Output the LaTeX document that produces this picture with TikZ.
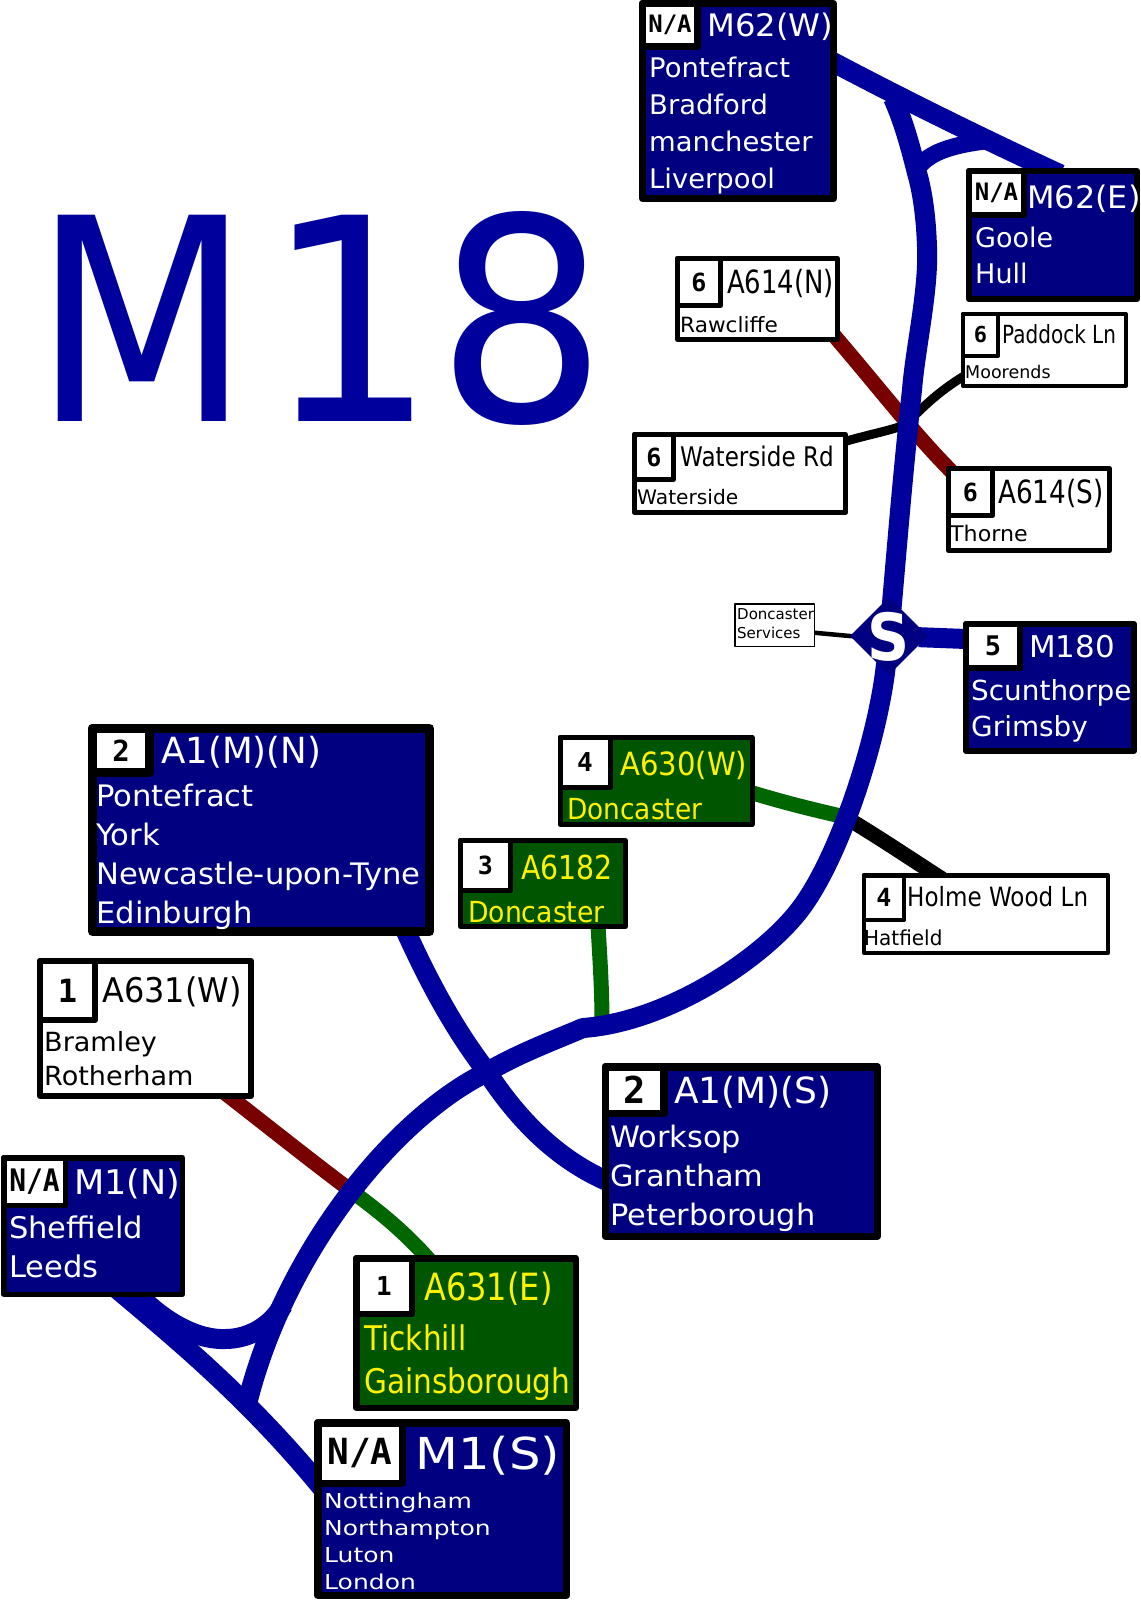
\documentclass[tikz,border=0pt]{standalone}
\usepackage{graphicx}
\usepackage{fontspec}
\setmainfont{DejaVu Sans}
\newfontfamily\badgefont{DejaVu Sans Mono}
\usetikzlibrary{backgrounds,shapes.geometric}
\definecolor{signblue}{HTML}{000080}
\definecolor{roadblue}{HTML}{00009C}
\definecolor{signgreen}{HTML}{005500}
\definecolor{roadgreen}{HTML}{006600}
\definecolor{roadred}{HTML}{770000}
\newcommand{\signtext}[4]{\scalebox{#1}[1]{\fontsize{#2}{#3}\selectfont\begin{tabular}[b]{@{}l@{}}#4\end{tabular}}}
\newcommand{\badgetext}[3]{\scalebox{#1}[1]{\fontsize{#2}{#2}\selectfont #3}}
\tikzset{
  board/.style={draw=black,line join=round,outer sep=0pt,inner sep=0pt},
  motorwaysign/.style={board,fill=signblue},
  primarysign/.style={board,fill=signgreen},
  localsign/.style={board,fill=white},
  badge/.style={board,fill=white,anchor=north west,text=black,font=\badgefont\bfseries},
  motorwaytext/.style={anchor=base west,inner sep=0pt,text=white},
  primarytext/.style={anchor=base west,inner sep=0pt,text=yellow},
  localtext/.style={anchor=base west,inner sep=0pt,text=black},
  startin/.style={shorten <=-8pt},
  stopin/.style={shorten >=-8pt},
  motorway/.style={draw=roadblue,line width=20pt},
  minorgreen/.style={draw=roadgreen,line width=15pt},
  minorred/.style={draw=roadred,line width=15pt},
  minorblack/.style={draw=black,line width=#1},
  minorblack/.default=9pt
}
\begin{document}
\begin{tikzpicture}[x=1pt,y=-1pt]
\path[use as bounding box] (0,0) rectangle (1140,1600);
\node[anchor=base west,inner sep=0pt,text=roadblue] (title) at (33,421) {\fontsize{283}{283}\selectfont\scalebox{.89}[1]{M}\kern15pt\scalebox{.95}[1]{18}};
% northern end
\node[motorwaysign,line width=7pt,minimum width=191pt,minimum height=195pt] (m62w) at (738,101) {};
\node[badge,line width=7pt,minimum width=55pt,minimum height=43pt] (m62wbadge) at (m62w.north west) {\badgetext{1}{24}{N/A}};
\node[motorwaytext] (m62wname) at (707,37) {\signtext{1.04}{31}{31}{M62(W)}};
\node[motorwaytext] (m62wdest) at (649,188) {\signtext{1.015}{27}{36.7}{Pontefract\\Bradford\\manchester\\Liverpool}};
\node[motorwaysign,line width=6pt,minimum width=168pt,minimum height=128pt] (m62e) at (1053,235) {};
\node[badge,line width=6pt,minimum width=55pt,minimum height=44pt] (m62ebadge) at (m62e.north west) {\badgetext{1}{24}{N/A}};
\node[motorwaytext] (m62ename) at (1027,208) {\signtext{1.03}{31}{31}{M62(E)}};
\node[motorwaytext] (m62edest) at (975,283) {\signtext{1}{27}{36}{Goole\\Hull}};
% junction 6
\node[localsign,line width=5pt,minimum width=160pt,minimum height=81pt] (a614n) at (757.5,299) {};
\node[badge,line width=5pt,minimum width=43pt,minimum height=47pt] (a614nbadge) at (a614n.north west) {\badgetext{1}{25}{6}};
\node[localtext] (a614nname) at (727,293) {\signtext{.81}{32}{32}{A614(N)}};
\node[localtext] (a614ndest) at (680,332) {\signtext{1.03}{21}{21}{Rawcliffe}};
\node[localsign,line width=4pt,minimum width=163pt,minimum height=72pt] (paddock) at (1044.5,350) {};
\node[badge,line width=4pt,minimum width=35pt,minimum height=42pt] (paddockbadge) at (paddock.north west) {\badgetext{1}{22}{6}};
\node[localtext] (paddockname) at (1002,343) {\signtext{.8}{25}{25}{Paddock Ln}};
\node[localtext] (paddockdest) at (965,378) {\signtext{1}{17.5}{17.5}{Moorends}};
\node[localsign,line width=5pt,minimum width=211pt,minimum height=78pt] (waterside) at (740,473.5) {};
\node[badge,line width=5pt,minimum width=39pt,minimum height=45pt] (watersidebadge) at (waterside.north west) {\badgetext{1}{25}{6}};
\node[localtext] (watersidename) at (680,466) {\signtext{.855}{27}{27}{Waterside Rd}};
\node[localtext] (watersidedest) at (637,504) {\signtext{1.01}{20}{20}{Waterside}};
\node[localsign,line width=5pt,minimum width=161pt,minimum height=82pt] (a614s) at (1029,509.5) {};
\node[badge,line width=5pt,minimum width=44pt,minimum height=47pt] (a614sbadge) at (a614s.north west) {\badgetext{1}{25}{6}};
\node[localtext] (a614sname) at (998,503) {\signtext{.82}{32}{32}{A614(S)}};
\node[localtext] (a614sdest) at (950,541) {\signtext{1.03}{21.5}{21.5}{Thorne}};
% services and junction 5
\node[localsign,line width=1.5pt,minimum width=79.5pt,minimum height=42.5pt] (donservices) at (774.5,625) {};
\node[localtext] (donservicestext) at (737,638) {\signtext{1}{15}{19}{Doncaster\\Services}};
\node[diamond,fill=signblue,inner sep=0pt,minimum width=78pt,minimum height=78pt] (services) at (889,636) {};
\node[anchor=base,inner sep=0pt,text=white] (servicesmark) at (889,660) {\bfseries\signtext{.9}{65}{65}{S}};
\node[motorwaysign,line width=6pt,minimum width=168pt,minimum height=127pt] (m180) at (1050,687.5) {};
\node[badge,line width=6pt,minimum width=54pt,minimum height=44pt] (m180badge) at (m180.north west) {\badgetext{1}{27}{5}};
\node[motorwaytext] (m180name) at (1029,657) {\signtext{1.03}{30}{30}{M180}};
\node[motorwaytext] (m180dest) at (971,736) {\signtext{1.01}{27.6}{36}{Scunthorpe\\Grimsby}};
% junctions 4 and 3
\node[primarysign,line width=5pt,minimum width=192pt,minimum height=87pt] (a630w) at (656,781) {};
\node[badge,line width=5pt,minimum width=50pt,minimum height=50pt] (a630wbadge) at (a630w.north west) {\badgetext{1}{26}{4}};
\node[primarytext] (a630wname) at (620,775) {\signtext{.91}{32}{32}{A630(W)}};
\node[primarytext] (a630wdest) at (567,819) {\signtext{.91}{29}{29}{Doncaster}};
\node[localsign,line width=4.5pt,minimum width=244pt,minimum height=77.5pt] (holme) at (986,914) {};
\node[badge,line width=4.5pt,minimum width=40pt,minimum height=44.5pt] (holmebadge) at (holme.north west) {\badgetext{1}{25}{4}};
\node[localtext] (holmename) at (907,906) {\signtext{.87}{26.5}{26.5}{Holme Wood Ln}};
\node[localtext] (holmedest) at (864,945) {\signtext{.97}{20.6}{20.6}{Hatfield}};
\node[primarysign,line width=5pt,minimum width=165pt,minimum height=86pt] (a6182) at (543,883.5) {};
\node[badge,line width=5pt,minimum width=50pt,minimum height=50pt] (a6182badge) at (a6182.north west) {\badgetext{1}{25}{3}};
\node[primarytext] (a6182name) at (521,879) {\signtext{.86}{33}{33}{A6182}};
\node[primarytext] (a6182dest) at (468,922) {\signtext{.92}{29}{29}{Doncaster}};
% junction 2
\node[motorwaysign,line width=9pt,minimum width=337pt,minimum height=203pt] (a1n) at (261,830) {};
\node[badge,line width=9pt,minimum width=57pt,minimum height=44pt] (a1nbadge) at (a1n.north west) {\badgetext{1}{29}{2}};
\node[motorwaytext] (a1nname) at (161,763) {\signtext{.99}{36}{36}{A1(M)(N)}};
\node[motorwaytext] (a1ndest) at (96,923) {\signtext{1.035}{29.6}{38.7}{Pontefract\\York\\Newcastle-upon-Tyne\\Edinburgh}};
\node[motorwaysign,line width=7.5pt,minimum width=272pt,minimum height=169.5pt] (a1s) at (741.3,1151.5) {};
\node[badge,line width=7.5pt,minimum width=58.5pt,minimum height=46.5pt] (a1sbadge) at (a1s.north west) {\badgetext{1}{37}{2}};
\node[motorwaytext] (a1sname) at (674,1103) {\signtext{1}{36}{36}{A1(M)(S)}};
\node[motorwaytext] (a1sdest) at (610,1225) {\signtext{1.03}{29.5}{39}{Worksop\\Grantham\\Peterborough}};
% junction 1
\node[localsign,line width=6pt,minimum width=211pt,minimum height=135pt] (a631w) at (145.5,1028.5) {};
\node[badge,line width=6pt,minimum width=55pt,minimum height=59pt] (a631wbadge) at (a631w.north west) {\badgetext{1}{32}{1}};
\node[localtext] (a631wname) at (102,1002) {\signtext{.94}{34}{34}{A631(W)}};
\node[localtext] (a631wdest) at (44,1085) {\signtext{1.025}{26.4}{34}{Bramley\\Rotherham}};
\node[primarysign,line width=6.5pt,minimum width=219.5pt,minimum height=149.5pt] (a631e) at (466,1333) {};
\node[badge,line width=6.5pt,minimum width=55.5pt,minimum height=55.5pt] (a631ebadge) at (a631e.north west) {\badgetext{1}{26}{1}};
\node[primarytext] (a631ename) at (424,1300) {\signtext{.855}{37.5}{37.5}{A631(E)}};
\node[primarytext] (a631edest) at (364,1393) {\signtext{.87}{34}{43}{Tickhill\\Gainsborough}};
% southern end
\node[motorwaysign,line width=5.5pt,minimum width=178.5pt,minimum height=136.5pt] (m1n) at (93,1226) {};
\node[badge,line width=5.5pt,minimum width=61.5pt,minimum height=47.5pt] (m1nbadge) at (m1n.north west) {\badgetext{.9}{31}{N/A}};
\node[motorwaytext] (m1nname) at (74,1194) {\signtext{1.03}{34}{34}{M1(N)}};
\node[motorwaytext] (m1ndest) at (9,1277) {\signtext{1.025}{29.8}{39}{Sheffield\\Leeds}};
\node[motorwaysign,line width=7.5pt,minimum width=248.5pt,minimum height=172.5pt] (m1s) at (442,1509) {};
\node[badge,line width=7.5pt,minimum width=84.5pt,minimum height=60.5pt] (m1sbadge) at (m1s.north west) {\badgetext{1}{36}{N/A}};
\node[motorwaytext] (m1sname) at (415,1469) {\signtext{1.13}{44}{44}{M1(S)}};
\node[motorwaytext] (m1sdest) at (324,1589) {\signtext{1.22}{20.5}{26.7}{Nottingham\\Northampton\\Luton\\London}};
% road points
\coordinate (m1fork) at (248,1400);
\coordinate (m1slip) at (283,1305);
\coordinate (a1cross) at (487,1072);
\coordinate (kink) at (583,1028);
\coordinate (m62fork) at (893,98);
\coordinate (m62slipw) at (915,172);
\coordinate (m62slipe) at (985,141);
\coordinate (a631cross) at (350,1190);
\coordinate (a630cross) at (845,817);
\coordinate (a6182end) at (602,1022);
\begin{scope}[on background layer]
\fill[white] (0,0) rectangle (1140,1600);
\draw[minorred,startin,stopin] (a614n.south east) .. controls (885,395) and (915,435) .. (a614s.north west);
\draw[minorblack,startin,stopin] (waterside.17) .. controls (870,434) and (885,432) .. (905,425) .. controls (925,405) and (940,390) .. (paddock.198);
\draw[minorgreen,startin] (a630w.353) .. controls (785,803) and (815,810) .. (a630cross);
\draw[minorblack=15pt,stopin] (a630cross) .. controls (880,838) and (905,855) .. (holme.142);
\draw[minorgreen,startin] (a6182.322.5) .. controls (600,960) and (602,990) .. (a6182end);
\draw[minorred,startin] (a631w.321) .. controls (270,1128) and (310,1160) .. (a631cross);
\draw[minorgreen,stopin] (a631cross) .. controls (380,1212) and (405,1232) .. (a631e.117);
\draw[minorblack=4.5pt,startin,stopin] (donservices.349) -- (services.west);
\draw[motorway,startin,stopin] (services) -- (m180.150);
\draw[motorway,stopin,line join=round] (m1fork) .. controls (285,1255) and (390,1120) .. (a1cross) .. controls (520,1053) and (550,1042) .. (kink) .. controls (665,1022) and (758,962) .. (798,912) .. controls (838,862) and (878,740) .. (services);
\draw[motorway,startin] (services) .. controls (895,570) and (903,470) .. (912,390) .. controls (915,350) and (929,290) .. (927,247) .. controls (926,215) and (922,190) .. (917,173) .. controls (910,145) and (903,120) .. (m62fork);
\draw[motorway,startin,stopin] (a1n.325) .. controls (430,985) and (455,1030) .. (a1cross) .. controls (515,1115) and (555,1160) .. (a1s.192);
\draw[motorway,startin,stopin] (m62w.22) .. controls (895,95) and (975,135) .. (m62e.north);
\draw[motorway,line width=17pt] (m62slipw) .. controls (925,155) and (945,146) .. (m62slipe);
\draw[motorway,startin,stopin] (m1n.294) .. controls (180,1342) and (250,1400) .. (m1s.168.5);
\draw[motorway,startin] (m1n.303) .. controls (165,1325) and (200,1340) .. (225,1339) .. controls (250,1339) and (272,1325) .. (m1slip);
\end{scope}
\end{tikzpicture}
\end{document}
